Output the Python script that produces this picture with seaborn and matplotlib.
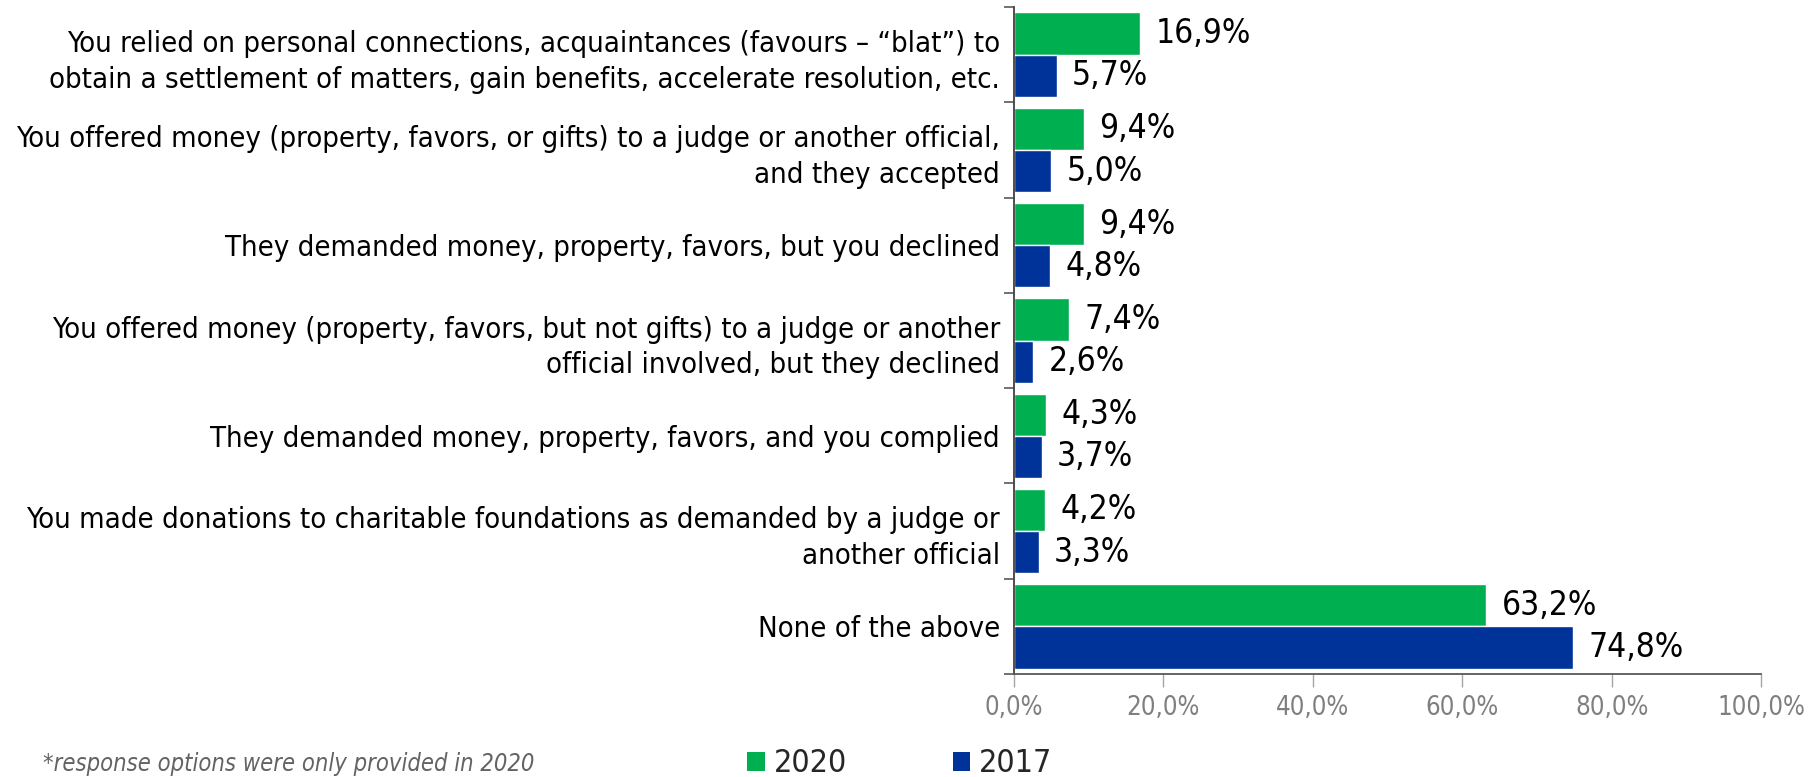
import matplotlib
matplotlib.use("Agg")
import matplotlib.pyplot as plt
from matplotlib.patches import Patch
from matplotlib.ticker import FuncFormatter, FixedLocator
import seaborn as sns
import pandas as pd

categories = [
    "You relied on personal connections, acquaintances (favours \u2013 \u201cblat\u201d) to\nobtain a settlement of matters, gain benefits, accelerate resolution, etc.",
    "You offered money (property, favors, or gifts) to a judge or another official,\nand they accepted",
    "They demanded money, property, favors, but you declined",
    "You offered money (property, favors, but not gifts) to a judge or another\nofficial involved, but they declined",
    "They demanded money, property, favors, and you complied",
    "You made donations to charitable foundations as demanded by a judge or\nanother official",
    "None of the above",
]
values_2020 = [16.9, 9.4, 9.4, 7.4, 4.3, 4.2, 63.2]
values_2017 = [5.7, 5.0, 4.8, 2.6, 3.7, 3.3, 74.8]
years = ["2020", "2017"]
x_ticks = [0, 20, 40, 60, 80, 100]
footnote = "*response options were only provided in 2020"

colors = {"2020": "#00B050", "2017": "#003399"}

df = pd.DataFrame({
    "category": categories * 2,
    "year": ["2020"] * len(categories) + ["2017"] * len(categories),
    "value": values_2020 + values_2017,
})

sns.set_theme(style="white")
plt.rcParams["font.family"] = ["DejaVu Sans"]
plt.rcParams["font.stretch"] = "condensed"

fig = plt.figure(figsize=(18.10, 7.77), dpi=100)
ax = fig.add_axes([1014 / 1810, 1 - 674 / 777, (1761 - 1014) / 1810, (674 - 7) / 777])

sns.barplot(data=df, y="category", x="value", hue="year", hue_order=years,
            order=categories, palette=colors, orient="h", width=0.885,
            saturation=1, ax=ax, legend=False)

def pct(v):
    return f"{v:.1f}".replace(".", ",") + "%"

for cont in ax.containers:
    ax.bar_label(cont, labels=[pct(b.get_width()) for b in cont], padding=11,
                 fontsize=24, color="black", fontstretch="condensed")

ax.set_xlim(0, 100)
ax.set_ylim(len(categories) - 0.5, -0.5)
ax.set_xlabel("")
ax.set_ylabel("")
ax.xaxis.set_major_locator(FixedLocator(x_ticks))
ax.xaxis.set_major_formatter(FuncFormatter(lambda v, p: pct(v)))
ax.tick_params(axis="x", which="major", length=9, width=1, color="#A6A6A6",
               labelsize=18.5, labelcolor="#7F7F7F", pad=6, bottom=True)

ax.yaxis.set_minor_locator(FixedLocator([i - 0.5 for i in range(len(categories) + 1)]))
ax.tick_params(axis="y", which="major", length=0, pad=10, labelsize=21, labelcolor="black")
ax.tick_params(axis="y", which="minor", length=7, width=1.2, color="#595959", left=True)
for lbl in ax.get_yticklabels():
    lbl.set_horizontalalignment("right")
    lbl.set_multialignment("right")
    lbl.set_linespacing(1.36)

for side in ["top", "right"]:
    ax.spines[side].set_visible(False)
ax.spines["left"].set_color("#404040")
ax.spines["left"].set_linewidth(1.3)
ax.spines["bottom"].set_color("#595959")
ax.spines["bottom"].set_linewidth(1.3)
ax.grid(False)

handles = [Patch(facecolor=colors[y], edgecolor="none", label=y) for y in years]
fig.legend(handles=handles, loc="center left", bbox_to_anchor=(747 / 1810, 1 - 764 / 777),
           ncol=2, frameon=False, fontsize=23, handlelength=0.56, handleheight=0.53,
           handletextpad=0.28, columnspacing=3.3, borderpad=0, borderaxespad=0)

fig.text(43 / 1810, 1 - 764 / 777, footnote, ha="left", va="center", fontsize=17,
         style="italic", color="#636363")

fig.savefig("out.png", dpi=100)
